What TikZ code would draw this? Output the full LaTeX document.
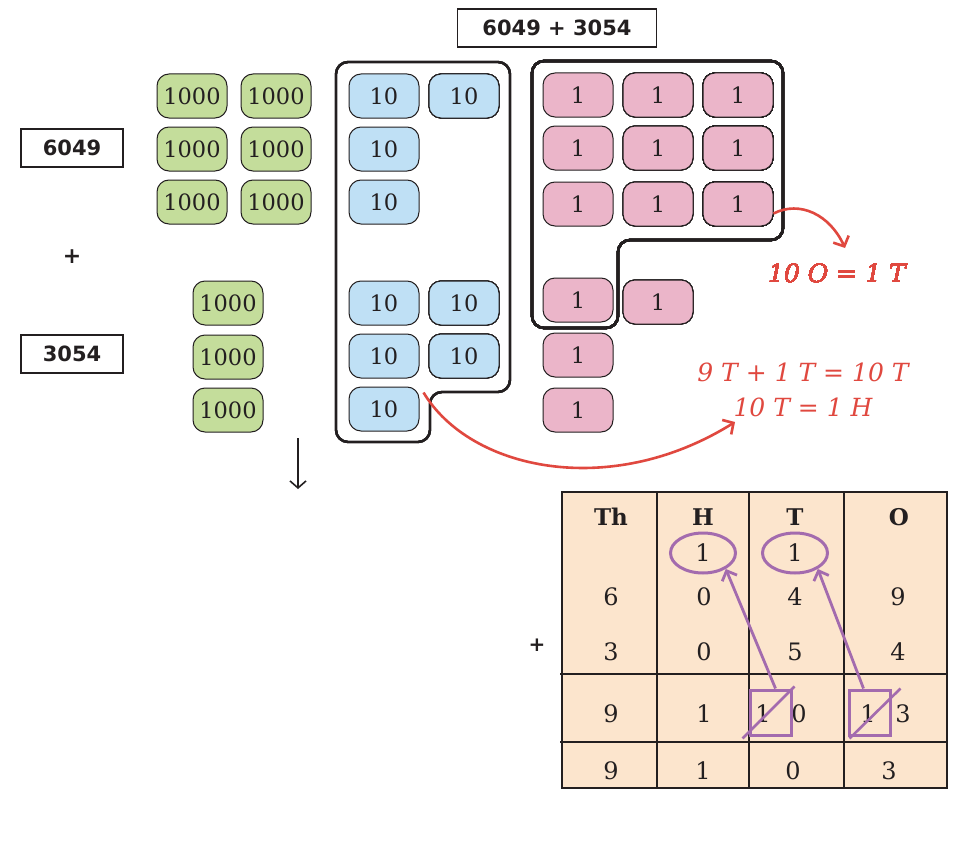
\documentclass[tikz,border=0pt]{standalone}
\usepackage{fontspec}
\usepackage{xcolor}
\usetikzlibrary{arrows.meta,positioning,calc,shapes.geometric}
\setmainfont{DejaVu Serif}
\newfontfamily\boxfont{DejaVu Sans}
\definecolor{Ink}{HTML}{231F20}
\definecolor{Leaf}{HTML}{C4DD9B}
\definecolor{Sky}{HTML}{BFE0F5}
\definecolor{Rose}{HTML}{EBB5C9}
\definecolor{Coral}{HTML}{E0483F}
\definecolor{Plum}{HTML}{A36BAE}
\definecolor{Peach}{HTML}{FCE5CD}
\tikzset{
  blk/.style={draw=Ink, line width=1pt, rounded corners=12pt, minimum width=70pt,
    minimum height=44pt, inner sep=0pt, text=Ink, font=\fontsize{22.5}{26}\selectfont},
  thblk/.style={blk, fill=Leaf},
  tnblk/.style={blk, fill=Sky},
  unblk/.style={blk, fill=Rose},
  numbox/.style={draw=Ink, line width=1.8pt, minimum height=38pt, inner sep=0pt,
    text=Ink, font=\boxfont\bfseries\fontsize{21}{24}\selectfont},
  group/.style={draw=Ink, line width=2.4pt, rounded corners=12pt},
  note/.style={text=Coral, align=center, font=\itshape\fontsize{25}{35}\selectfont},
  redarr/.style={Coral, line width=2.6pt, -{Straight Barb[length=8pt,width=17pt]}},
  cell/.style={text=Ink, inner sep=0pt, font=\fontsize{24}{27}\selectfont},
  head/.style={text=Ink, inner sep=0pt, font=\bfseries\fontsize{23}{26}\selectfont},
  ring/.style={ellipse, draw=Plum, line width=3pt, minimum width=65pt, minimum height=40pt},
  crossbox/.style={draw=Plum, line width=3pt, minimum width=41pt, minimum height=45pt, inner sep=0pt},
  carry/.style={Plum, line width=2.8pt, -{Straight Barb[length=8pt,width=16pt]}}
}
\newcommand{\thoublk}[3]{\node[thblk] (#1) at (#2,#3) {1000};}
\newcommand{\tenblk}[3]{\node[tnblk] (#1) at (#2,#3) {10};}
\newcommand{\unitblk}[3]{\node[unblk] (#1) at (#2,#3) {1};}

\begin{document}
\begin{tikzpicture}[x=1pt,y=-1pt]
        \useasboundingbox (0,0) rectangle (969,859);
        \fill[white] (0,0) rectangle (969,859);
        \node[numbox, minimum width=199pt] (sum) at (557,28) {6049 + 3054};
        \node[numbox, minimum width=102pt] (first) at (72,148) {6049};
        \node[numbox, minimum width=102pt] (second) at (72,354) {3054};
        \node[text=Ink, font=\boxfont\bfseries\fontsize{22}{24}\selectfont] (plus) at (72,257) {+};
        \foreach \r/\y in {1/96,2/149,3/202} {
          \thoublk{ka\r}{192}{\y}
          \thoublk{kb\r}{276}{\y}
        }
        \foreach \r/\y in {4/303,5/357,6/410} \thoublk{kc\r}{228}{\y}
        \draw[group] (336,250) -- (336,62) -- (510,62) -- (510,392) -- (430,392) -- (430,442) -- (336,442) -- cycle;
        \foreach \r/\y in {1/96,2/149,3/202,4/303,5/356,6/409} \tenblk{ta\r}{384}{\y}
        \foreach \r/\y in {1/96,4/303,5/356} \tenblk{tb\r}{464}{\y}
        \draw[group] (532,200) -- (532,61) -- (783,61) -- (783,240) -- (618,240) -- (618,328) -- (532,328) -- cycle;
        \foreach \r/\y in {1/95,2/148,3/204,4/300,5/355,6/410} \unitblk{oa\r}{578}{\y}
        \foreach \r/\y in {1/95,2/148,3/204,4/302} \unitblk{ob\r}{658}{\y}
        \foreach \r/\y in {1/95,2/148,3/204} \unitblk{oc\r}{738}{\y}
        \node[note] (onesrule) at (837,273) {10 O = 1 T};
        \node[note] (tensrule) at (803,390) {9 T + 1 T = 10 T\\10 T = 1 H};
        \coordinate (onestip) at (845,248);
        \coordinate (tenstip) at (735,422);
        \draw[redarr] (oc3.-15) .. controls (800,200) and (830,215) .. (onestip);
        \draw[redarr] ([shift={(4,6)}]ta6.north east) .. controls (470,470) and (610,500) .. (tenstip);
        \coordinate (dtop) at (298,438);
        \coordinate (dbot) at (298,489);
        \draw[Ink, line width=1.6pt, -{Straight Barb[length=7pt,width=16pt]}] (dtop) -- (dbot);
        \fill[Peach] (562,492) rectangle (947,788);
        \foreach \x in {657,749,844} \draw[Ink, line width=1.5pt] (\x,492) -- (\x,788);
        \draw[Ink, line width=2.6pt] (560,674) -- (947,674);
        \draw[Ink, line width=2.6pt] (560,742) -- (947,742);
        \draw[Ink, line width=1.5pt] (562,492) rectangle (947,788);
        \node[head] (hth) at (611,517) {Th};
        \node[head] (hh) at (703,517) {H};
        \node[head] (ht) at (795,517) {T};
        \node[head] (ho) at (899,517) {O};
        \node[ring, cell] (cH) at (703,553) {1};
        \node[ring, cell] (cT) at (795,553) {1};
        \foreach \n/\x/\a/\b in {th/611/6/3,h/704/0/0,t/795/4/5,o/898/9/4} {
          \node[cell] (a\n) at (\x,597) {\a};
          \node[cell] (b\n) at (\x,652) {\b};
        }
        \node[text=Ink, font=\boxfont\bfseries\fontsize{20}{22}\selectfont] (tplus) at (537,645) {+};
        \node[cell] (sth) at (611,714) {9};
        \node[cell] (sh) at (704,714) {1};
        \node[cell] (stc) at (763,714) {1};
        \node[cell] (stu) at (799,714) {0};
        \node[cell] (soc) at (868,714) {1};
        \node[cell] (sou) at (903,714) {3};
        \node[crossbox] (sqT) at (770.5,712.5) {};
        \node[crossbox] (sqO) at (869.5,712.5) {};
        \draw[Plum, line width=2.6pt] ($(sqT.south west)+(-6,2)$) -- ($(sqT.north east)+(2,-2)$);
        \draw[Plum, line width=2.6pt] ($(sqO.south west)+(2,2)$) -- ($(sqO.north east)+(9,0)$);
        \draw[carry] ([xshift=5pt]sqT.north) -- (cH.-35);
        \draw[carry] ([xshift=-6pt]sqO.north) -- (cT.-35);
        \node[cell] (rth) at (611,771) {9};
        \node[cell] (rh) at (703,771) {1};
        \node[cell] (rt) at (793,771) {0};
        \node[cell] (ro) at (889,771) {3};
      \end{tikzpicture}
\end{document}
